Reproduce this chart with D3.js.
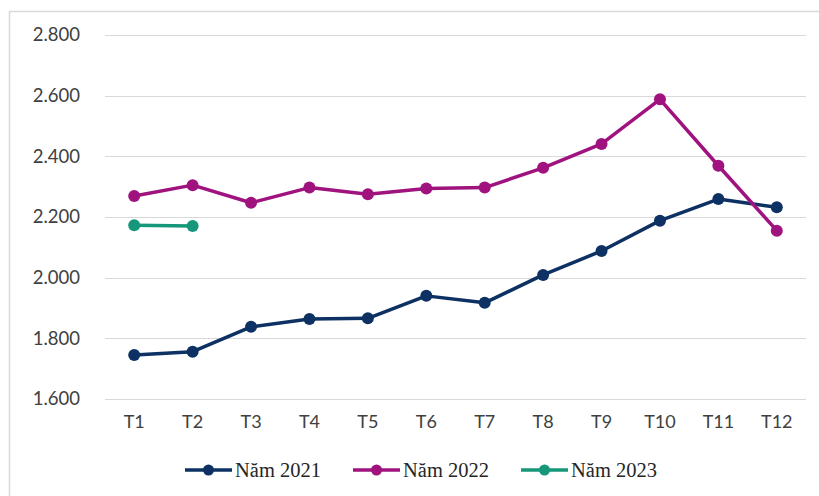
<!DOCTYPE html>
<html>
<head>
<meta charset="utf-8">
<script src="https://cdn.jsdelivr.net/npm/d3@7"></script>
<style>
  body { margin: 0; background: #fff; }
  svg { display: block; }
</style>
</head>
<body>
<div id="chart"></div>
<script>
const months = ['T1', 'T2', 'T3', 'T4', 'T5', 'T6', 'T7', 'T8', 'T9', 'T10', 'T11', 'T12']
const y2021 = [1745, 1756, 1838, 1864, 1866, 1940, 1917, 2009, 2088, 2188, 2259, 2232]
const y2022 = [2269, 2305, 2247, 2297, 2275, 2294, 2297, 2362, 2441, 2588, 2369, 2155]
const y2023 = [2173, 2170]
const yTicks = [1600, 1800, 2000, 2200, 2400, 2600, 2800]
const seriesNames = ['Năm 2021', 'Năm 2022', 'Năm 2023']
const colors = ['#0d3163', '#a0137f', '#16977a']

const width = 819
const height = 496
const margin = { top: 35, right: 13, bottom: 97, left: 105 }

const svg = d3.select('#chart')
  .append('svg')
  .attr('width', width)
  .attr('height', height)

// outer frame
svg.append('rect')
  .attr('x', 9.5)
  .attr('y', 11.5)
  .attr('width', width)
  .attr('height', height)
  .attr('fill', 'none')
  .attr('stroke', '#d9d9d9')
  .attr('stroke-width', 1.5)

const x = d3.scaleBand()
  .domain(months)
  .range([margin.left, width - margin.right])

const y = d3.scaleLinear()
  .domain([1600, 2800])
  .range([height - margin.bottom, margin.top])

// gridlines
svg.append('g')
  .selectAll('line')
  .data(yTicks)
  .enter()
  .append('line')
  .attr('x1', margin.left)
  .attr('x2', width - margin.right)
  .attr('y1', d => Math.round(y(d)) + 0.5)
  .attr('y2', d => Math.round(y(d)) + 0.5)
  .attr('stroke', '#d9d9d9')
  .attr('stroke-width', 1)

const fmt = d => d3.format(',')(d).replace(',', '.')

// y axis labels
svg.append('g')
  .attr('transform', `translate(${margin.left - 25},0)`)
  .call(d3.axisLeft(y).tickValues(yTicks).tickFormat(fmt).tickSize(0).tickPadding(0))
  .call(g => g.select('.domain').remove())
  .selectAll('text')
  .attr('font-family', 'Lato, "Open Sans", sans-serif')
  .attr('font-size', 18.5)
  .attr('fill', '#404040')

// x axis labels
svg.append('g')
  .attr('transform', `translate(0,${height - margin.bottom + 16})`)
  .call(d3.axisBottom(x).tickSize(0).tickPadding(0))
  .call(g => g.select('.domain').remove())
  .selectAll('text')
  .attr('font-family', 'Lato, "Open Sans", sans-serif')
  .attr('font-size', 18)
  .attr('fill', '#404040')

const cx = (d, i) => x(months[i]) + x.bandwidth() / 2
const line = d3.line()
  .x(cx)
  .y(d => y(d))

const allSeries = [y2021, y2022, y2023]

allSeries.forEach((vals, k) => {
  const g = svg.append('g')
  g.append('path')
    .datum(vals)
    .attr('d', line)
    .attr('fill', 'none')
    .attr('stroke', colors[k])
    .attr('stroke-width', 3.5)
    .attr('stroke-linejoin', 'round')

  g.selectAll('circle')
    .data(vals)
    .enter()
    .append('circle')
    .attr('cx', cx)
    .attr('cy', d => y(d))
    .attr('r', 6)
    .attr('fill', colors[k])
})

// legend
const legendX = [185, 353, 521]
const legend = svg.append('g')
  .attr('transform', 'translate(0,470)')

const item = legend.selectAll('g')
  .data(seriesNames)
  .enter()
  .append('g')
  .attr('transform', (d, i) => `translate(${legendX[i]},0)`)

item.append('line')
  .attr('x1', 0)
  .attr('x2', 47)
  .attr('stroke', (d, i) => colors[i])
  .attr('stroke-width', 3.5)

item.append('circle')
  .attr('cx', 23.5)
  .attr('r', 5.5)
  .attr('fill', (d, i) => colors[i])

item.append('text')
  .attr('x', 50)
  .attr('dy', '0.35em')
  .attr('font-family', '"Liberation Serif", "DejaVu Serif", serif')
  .attr('font-size', 20.5)
  .attr('fill', '#262626')
  .text(d => d)
</script>
</body>
</html>
